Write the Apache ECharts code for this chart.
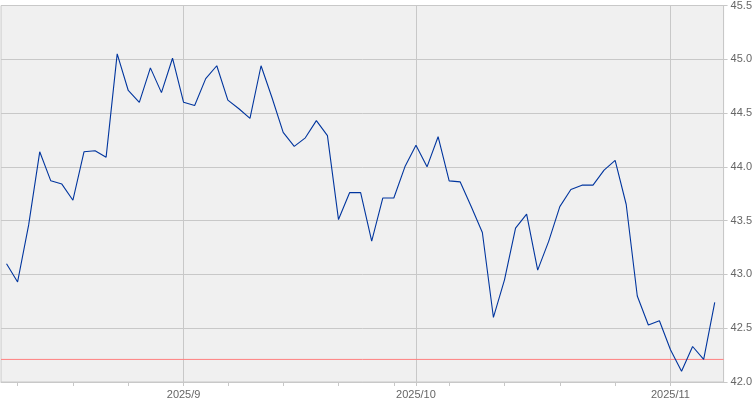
<!DOCTYPE html>
<html>
<head>
<meta charset="utf-8">
<style>
  html, body { margin: 0; padding: 0; background: #fff; }
  #chart { width: 755px; height: 400px; }
</style>
<script src="https://cdn.jsdelivr.net/npm/echarts@6/dist/echarts.min.js"></script>
</head>
<body>
<div id="chart"></div>
<script>
// trading days shown on the chart
const dates = [
  '2025/08/08',
  '2025/08/11', '2025/08/12', '2025/08/13', '2025/08/14', '2025/08/15',
  '2025/08/18', '2025/08/19', '2025/08/20', '2025/08/21', '2025/08/22',
  '2025/08/25', '2025/08/26', '2025/08/27', '2025/08/28', '2025/08/29',
  '2025/09/02', '2025/09/03', '2025/09/04', '2025/09/05',
  '2025/09/08', '2025/09/09', '2025/09/10', '2025/09/11', '2025/09/12',
  '2025/09/15', '2025/09/16', '2025/09/17', '2025/09/18', '2025/09/19',
  '2025/09/22', '2025/09/23', '2025/09/24', '2025/09/25', '2025/09/26',
  '2025/09/29', '2025/09/30',
  '2025/10/01', '2025/10/02', '2025/10/03',
  '2025/10/06', '2025/10/07', '2025/10/08', '2025/10/09', '2025/10/10',
  '2025/10/13', '2025/10/14', '2025/10/15', '2025/10/16', '2025/10/17',
  '2025/10/20', '2025/10/21', '2025/10/22', '2025/10/23', '2025/10/24',
  '2025/10/27', '2025/10/28', '2025/10/29', '2025/10/30', '2025/10/31',
  '2025/11/03', '2025/11/04', '2025/11/05', '2025/11/06', '2025/11/07'
];

const prices = [
  43.10,
  42.93, 43.46, 44.14, 43.87, 43.84,
  43.69, 44.14, 44.15, 44.09, 45.05,
  44.71, 44.60, 44.92, 44.69, 45.01,
  44.60, 44.57, 44.82, 44.94,
  44.62, 44.54, 44.45, 44.94, 44.64,
  44.32, 44.19, 44.27, 44.43, 44.29,
  43.51, 43.76, 43.76, 43.31, 43.71,
  43.71, 44.00,
  44.20, 44.00, 44.28,
  43.87, 43.86, 43.63, 43.39, 42.60,
  42.95, 43.43, 43.56, 43.04, 43.31,
  43.63, 43.79, 43.83, 43.83, 43.97,
  44.06, 43.65, 42.80, 42.53, 42.57,
  42.30, 42.10, 42.33, 42.21, 42.74
];

const refLevel = 42.21;

// x range in day indices (a little room either side of the data)
const xMin = -0.5;
const xMax = 64.8;

// week starts and month starts get a tick, month starts get a label
const weekday = d => new Date(d.replace(/\//g, '-') + 'T00:00:00Z').getUTCDay();
const month = d => d.slice(0, 7);
let tickIdx = [];
let monthIdx = [];
dates.forEach((d, i) => {
  if (i == 0) return;
  const newMonth = month(d) != month(dates[i - 1]);
  if (newMonth) monthIdx.push(i);
  if (newMonth || weekday(d) < weekday(dates[i - 1])) tickIdx.push(i);
});

const monthLabel = i => {
  const p = dates[Math.round(i)].split('/');
  return p[0] + '/' + parseInt(p[1], 10);
};

const gridColor = '#c8c8c8';
const textStyle = { color: '#666', fontSize: 11, fontFamily: 'Liberation Sans' };

const chart = echarts.init(document.getElementById('chart'));
chart.setOption({
  animation: false,
  grid: {
    left: 1, right: 29, top: 3, bottom: 18,
    show: true,
    backgroundColor: '#f0f0f0',
    borderColor: gridColor,
    borderWidth: 1
  },
  xAxis: [
    {
      type: 'value',
      min: xMin,
      max: xMax,
      axisLine: { show: true, onZero: false, lineStyle: { color: gridColor } },
      axisTick: { show: true, length: 4, customValues: tickIdx, lineStyle: { color: gridColor } },
      axisLabel: Object.assign({ customValues: monthIdx, margin: 7, formatter: monthLabel }, textStyle),
      splitLine: { show: false }
    },
    {
      // only used for the month grid lines
      type: 'value',
      position: 'bottom',
      min: xMin,
      max: xMax,
      axisLine: { show: false, onZero: false },
      axisTick: { show: false, customValues: monthIdx },
      axisLabel: { show: false, customValues: monthIdx },
      splitLine: { show: true, lineStyle: { color: gridColor, width: 1 } }
    }
  ],
  yAxis: {
    type: 'value',
    position: 'right',
    min: 42,
    max: 45.5,
    interval: 0.5,
    axisLine: { show: true, onZero: false, lineStyle: { color: gridColor } },
    axisTick: { show: true, length: 4, lineStyle: { color: gridColor } },
    axisLabel: Object.assign({ margin: 7, formatter: v => v.toFixed(1) }, textStyle),
    splitLine: { show: true, lineStyle: { color: gridColor, width: 1 } }
  },
  series: [
    {
      name: 'ref',
      type: 'line',
      z: 2,
      silent: true,
      data: [[xMin, refLevel], [xMax, refLevel]],
      showSymbol: false,
      symbol: 'none',
      lineStyle: { color: '#ff8080', width: 1 }
    },
    {
      name: 'price',
      type: 'line',
      z: 3,
      data: prices.map((v, i) => [i, v]),
      showSymbol: false,
      symbol: 'none',
      lineStyle: { color: '#00359e', width: 1.1 }
    }
  ]
});
</script>
</body>
</html>
